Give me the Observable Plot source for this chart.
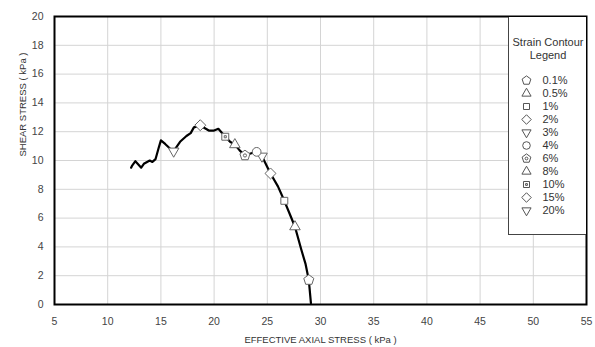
<!DOCTYPE html>
<html>
<head>
<meta charset="utf-8">
<script src="https://cdn.jsdelivr.net/npm/d3@7"></script>
<script src="https://cdn.jsdelivr.net/npm/@observablehq/plot@0.6"></script>
<style>
  html, body { margin: 0; padding: 0; background: white; }
  #wrap { position: relative; width: 595px; height: 347px; font-family: "Liberation Sans", Arial, sans-serif; }
  #legend { position: absolute; left: 508px; top: 17px; width: 77px; height: 217px; background: white;
            border-left: 1px solid #444; border-bottom: 1px solid #444; z-index: 2; }
</style>
</head>
<body>
<div id="wrap"><div id="legend"></div></div>
<script>
// ---- data ----
const pathX = [12.2, 12.3, 12.6, 12.9, 13.15, 13.4, 13.7, 13.95, 14.2, 14.5, 14.8, 15.0, 15.4, 15.9, 16.2, 16.8, 17.4, 17.8, 18.1, 18.7, 19.5, 20.0, 20.4, 21.05, 21.5, 21.95, 22.4, 22.9, 23.5, 24.0, 24.5, 25.3, 26.0, 26.6, 27.1, 27.6, 28.2, 28.6, 28.9, 29.1];
const pathY = [9.5, 9.65, 9.95, 9.7, 9.5, 9.77, 9.9, 10.0, 9.9, 10.1, 10.9, 11.4, 11.15, 10.8, 10.65, 11.3, 11.7, 11.9, 12.3, 12.43, 12.08, 12.08, 12.2, 11.65, 11.3, 11.1, 10.7, 10.35, 10.5, 10.6, 10.3, 9.1, 8.2, 7.2, 6.3, 5.4, 3.8, 2.8, 1.7, 0.1];

const strains = ["0.1%", "0.5%", "1%", "2%", "3%", "4%", "6%", "8%", "10%", "15%", "20%"];
const strainX = [28.9, 27.6, 26.6, 25.3, 24.5, 24.0, 22.9, 21.95, 21.05, 18.7, 16.2];
const strainY = [1.7, 5.4, 7.2, 9.1, 10.3, 10.6, 10.35, 11.1, 11.65, 12.45, 10.65];

const xTicks = [5, 10, 15, 20, 25, 30, 35, 40, 45, 50, 55];
const yTicks = [0, 2, 4, 6, 8, 10, 12, 14, 16, 18, 20];

const xTitle = "EFFECTIVE AXIAL STRESS ( kPa )";
const yTitle = "SHEAR STRESS ( kPa )";
const legendTitle = ["Strain Contour", "Legend"];

// ---- custom symbols ----
function polygon(ctx, pts) {
  ctx.moveTo(pts[0][0], pts[0][1]);
  for (let i = 1; i < pts.length; i++) ctx.lineTo(pts[i][0], pts[i][1]);
  ctx.closePath();
}
const pentagon = { draw(ctx, size) {
  const R = Math.sqrt(size / 2.378);
  const pts = d3.range(5).map(i => { const a = -Math.PI / 2 + i * 2 * Math.PI / 5; return [R * Math.cos(a), R * Math.sin(a)]; });
  polygon(ctx, pts);
}};
const pentagonDot = { draw(ctx, size) {
  pentagon.draw(ctx, size);
  const r = Math.sqrt(size / 2.378) * 0.3;
  ctx.moveTo(r, 0); ctx.arc(0, 0, r, 0, 2 * Math.PI);
}};
const triUp = { draw(ctx, size) {
  const s = Math.sqrt(size * 4 / Math.sqrt(3)) * 0.85; const h = s * Math.sqrt(3) / 2;
  polygon(ctx, [[0, -h * 2 / 3], [s / 2, h / 3], [-s / 2, h / 3]]);
}};
const triDown = { draw(ctx, size) {
  const s = Math.sqrt(size * 4 / Math.sqrt(3)) * 0.85; const h = s * Math.sqrt(3) / 2;
  polygon(ctx, [[0, h * 2 / 3], [s / 2, -h / 3], [-s / 2, -h / 3]]);
}};
const square = { draw(ctx, size) {
  const s = Math.sqrt(size) * 0.85 / 2;
  polygon(ctx, [[-s, -s], [s, -s], [s, s], [-s, s]]);
}};
const squareDot = { draw(ctx, size) {
  square.draw(ctx, size);
  const s = Math.sqrt(size) * 0.85 / 2 * 0.3;
  polygon(ctx, [[-s, -s], [s, -s], [s, s], [-s, s]]);
}};
const diamond = { draw(ctx, size) {
  const h = Math.sqrt(size / 2) * 0.95;
  polygon(ctx, [[0, -h], [h, 0], [0, h], [-h, 0]]);
}};
const circle = { draw(ctx, size) {
  const r = Math.sqrt(size / Math.PI) * 0.95;
  ctx.moveTo(r, 0); ctx.arc(0, 0, r, 0, 2 * Math.PI);
}};
const shapes = [pentagon, triUp, square, diamond, triDown, circle, pentagonDot, triUp, squareDot, diamond, triDown];

const path = pathX.map((x, i) => ({x, y: pathY[i]}));
const markers = strains.map((s, i) => ({s, x: strainX[i], y: strainY[i]}));

const chart = Plot.plot({
  width: 595, height: 347,
  marginLeft: 54, marginRight: 9, marginTop: 16, marginBottom: 43,
  style: { fontFamily: "'Liberation Sans', Arial, sans-serif", fontSize: "10.5px", color: "#444", background: "transparent" },
  x: { domain: [5, 55] },
  y: { domain: [0, 20] },
  symbol: { domain: strains, range: shapes },
  marks: [
    Plot.gridX(xTicks, { stroke: "#d4d4d4", strokeOpacity: 1 }),
    Plot.gridY(yTicks, { stroke: "#d4d4d4", strokeOpacity: 1 }),
    Plot.axisX(xTicks, { tickSize: 0, tickPadding: 13, label: null, fill: "#444" }),
    Plot.axisY(yTicks, { tickSize: 0, tickPadding: 11, label: null, fill: "#444" }),
    Plot.text([xTitle], { frameAnchor: "bottom", dy: 38, fontSize: 9.5, fill: "#333" }),
    Plot.text([yTitle], { frameAnchor: "left", dx: -32, dy: -4, rotate: -90, fontSize: 9.5, fill: "#333" }),
    Plot.line(path, { x: "x", y: "y", stroke: "black", strokeWidth: 2.2, strokeLinejoin: "round" }),
    Plot.dot(markers, { x: "x", y: "y", symbol: "s", r: 4.6, fill: "white", stroke: "#666", strokeWidth: 1 }),
    Plot.frame({ stroke: "black", strokeWidth: 2 })
  ]
});
chart.style.position = "absolute"; chart.style.left = "0"; chart.style.top = "0";
document.getElementById("wrap").prepend(chart);

const legendItems = strains.map(s => ({s}));
const legend = Plot.plot({
  width: 77, height: 217,
  marginLeft: 0, marginRight: 0, marginTop: 0, marginBottom: 0,
  style: { fontFamily: "'Liberation Sans', Arial, sans-serif", fontSize: "11px", color: "#333", background: "transparent" },
  x: { domain: [0, 77], range: [0, 77], axis: null },
  y: { type: "point", domain: strains, range: [61, 195], padding: 0, axis: null },
  symbol: { domain: strains, range: shapes },
  marks: [
    Plot.text([legendTitle[0]], { frameAnchor: "top", dy: 21, fontSize: 11, fill: "#333" }),
    Plot.text([legendTitle[1]], { frameAnchor: "top", dy: 34, fontSize: 11, fill: "#333" }),
    Plot.dot(legendItems, { x: () => 17, y: "s", symbol: "s", r: 4.0, fill: "white", stroke: "#555", strokeWidth: 1 }),
    Plot.text(legendItems, { x: () => 33, y: "s", text: "s", textAnchor: "start", fill: "#333" })
  ]
});
document.getElementById("legend").appendChild(legend);
</script>
</body>
</html>
